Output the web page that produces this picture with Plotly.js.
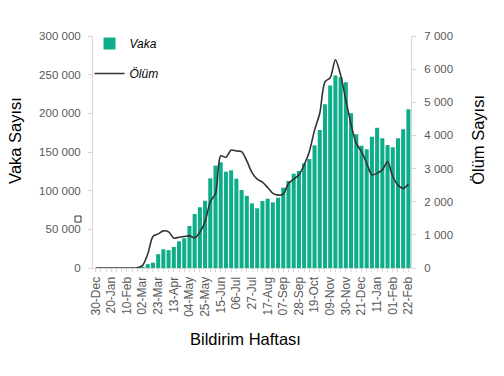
<!DOCTYPE html>
<html>
<head>
<meta charset="utf-8">
<script src="https://cdn.plot.ly/plotly-3.0.1.min.js"></script>
<style>html,body{margin:0;padding:0;background:#fff;}#chart{width:504px;height:376px;}</style>
</head>
<body>
<div id="chart"></div>
<script>
const weeks = ["30-Dec","06-Jan","13-Jan","20-Jan","27-Jan","03-Feb","10-Feb","17-Feb","24-Feb",
"02-Mar","09-Mar","16-Mar","23-Mar","30-Mar","06-Apr","13-Apr","20-Apr","27-Apr",
"04-May","11-May","18-May","25-May","01-Jun","08-Jun","15-Jun","22-Jun","29-Jun",
"06-Jul","13-Jul","20-Jul","27-Jul","03-Aug","10-Aug","17-Aug","24-Aug","31-Aug",
"07-Sep","14-Sep","21-Sep","28-Sep","05-Oct","12-Oct","19-Oct","26-Oct","02-Nov",
"09-Nov","16-Nov","23-Nov","30-Nov","07-Dec","14-Dec","21-Dec","28-Dec","04-Jan",
"11-Jan","18-Jan","25-Jan","01-Feb","08-Feb","15-Feb","22-Feb"];

const tickLabels = ["30-Dec","20-Jan","10-Feb","02-Mar","23-Mar","13-Apr","04-May","25-May",
"15-Jun","06-Jul","27-Jul","17-Aug","07-Sep","28-Sep","19-Oct","09-Nov","30-Nov","21-Dec",
"11-Jan","01-Feb","22-Feb"];

const vaka = [0,0,0,0,0,0,0,0,0,
1700,5000,6900,17900,24200,23000,27200,34500,38400,
54300,69800,78500,87000,116000,132300,136700,124500,126300,
115500,100900,93300,83500,77200,86600,89600,84900,90900,
103800,112500,121900,125400,135300,140900,158600,178400,211600,
236000,249000,246600,240100,200000,172900,158100,153500,169800,
181400,167700,159000,156100,167700,179300,205200];

const olum = [0,0,0,0,0,0,0,0,10,
80,420,950,1030,1120,1090,900,930,950,
970,910,1080,1400,2000,2250,3380,3340,3560,
3530,3510,3230,2880,2680,2590,2430,2250,2200,
2230,2550,2680,2810,3110,3510,4160,4670,5620,
5740,6280,5820,5070,4340,3760,3510,3160,2810,
2860,2960,3210,2760,2500,2400,2530];

const FONT = "Liberation Sans, Arial, sans-serif";
const GRAY = "#595959";
const AXC = "#d9d9d9";

const traces = [
  {type:"bar", name:"Vaka", x:weeks, y:vaka, marker:{color:"#0fae8a"},
   legendgroup:"a", yaxis:"y"},
  {type:"scatter", mode:"lines", name:"Ölüm", x:weeks, y:olum, yaxis:"y2",
   legendgroup:"b",
   line:{color:"#333333", width:1.6, shape:"spline", smoothing:0.8}}
];

const layout = {
  width:504, height:376,
  margin:{l:93, r:93, t:36, b:108},
  paper_bgcolor:"#fff", plot_bgcolor:"#fff",
  separators:", ",
  bargap:0.22,
  font:{family:FONT, color:GRAY, size:11},
  showlegend:true,
  legend:{x:-0.011, y:1.03, xanchor:"left", yanchor:"top", bgcolor:"rgba(0,0,0,0)",
          traceorder:"grouped", tracegroupgap:11,
          font:{family:FONT, size:12, color:"#000", style:"italic"}},
  xaxis:{type:"category", tickmode:"array", tickvals:weeks,
         ticktext:weeks.map(w => tickLabels.includes(w) ? w : ""),
         tickangle:-90, tickfont:{size:12, color:GRAY, family:FONT},
         showline:true, linecolor:AXC, linewidth:1, ticks:"outside", ticklen:3, tickcolor:AXC,
         showgrid:false, zeroline:false, fixedrange:true},
  yaxis:{range:[0,300000], dtick:50000, tickformat:",d", showgrid:false, zeroline:false,
         showline:true, linecolor:AXC, linewidth:1, ticks:"outside", ticklen:4, tickcolor:AXC,
         ticklabelstandoff:5,
         tickfont:{size:11.5, color:GRAY, family:FONT}},
  yaxis2:{range:[0,7000], dtick:1000, tickformat:",d", overlaying:"y", side:"right",
          showgrid:false, zeroline:false,
          showline:true, linecolor:AXC, linewidth:1, ticks:"outside", ticklen:4, tickcolor:AXC,
          ticklabelstandoff:6,
          tickfont:{size:11.5, color:GRAY, family:FONT}},
  annotations:[
    {text:"Vaka Sayısı", xref:"paper", yref:"paper", x:-0.28, y:0.552, textangle:-90,
     showarrow:false, font:{family:FONT, size:16.5, color:"#000"}},
    {text:"Ölüm Sayısı", xref:"paper", yref:"paper", x:1.245, y:0.552, textangle:-90,
     showarrow:false, font:{family:FONT, size:16.5, color:"#000"}},
    {text:"Bildirim Haftası", xref:"paper", yref:"paper", x:0.478, y:-0.353,
     showarrow:false, font:{family:FONT, size:16.5, color:"#000"}}
  ],
  shapes:[
    {type:"rect", xref:"paper", yref:"paper", x0:-0.0566, x1:-0.0377, y0:0.198, y1:0.224,
     line:{color:"#333", width:1}, fillcolor:"rgba(0,0,0,0)"}
  ]
};

Plotly.newPlot("chart", traces, layout, {displayModeBar:false, staticPlot:true});
</script>
</body>
</html>
